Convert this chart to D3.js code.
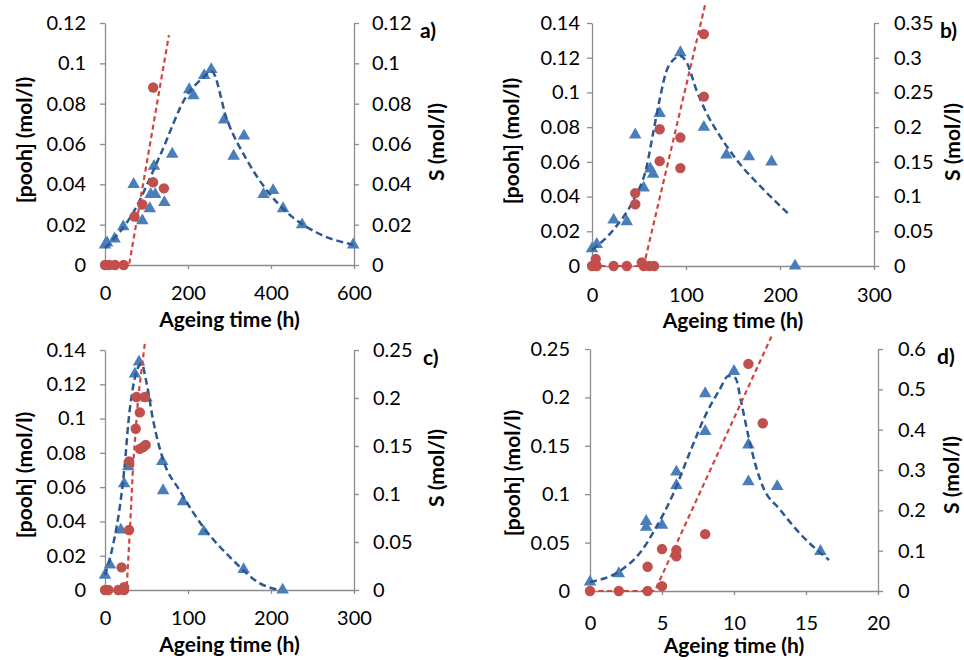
<!DOCTYPE html>
<html>
<head>
<meta charset="utf-8">
<script src="https://cdn.jsdelivr.net/npm/d3@7/dist/d3.min.js"></script>
<style>
    body { margin: 0; background: #fff; }
    svg text { font-family: Lato, "Open Sans", sans-serif; fill: #000; }
    .axis-title { font-size: 21px; font-weight: bold; }
    .panel-label { font-size: 21px; font-weight: bold; }
</style>
</head>
<body>
<div id="chart"></div>
<script>
// ---- data, [time (h), value] ----
// panel a
const triA = [[0, 0.010], [5, 0.011], [23, 0.013], [44, 0.019], [69, 0.040], [90, 0.022], [108, 0.028],
    [110, 0.035], [118, 0.049], [121, 0.035], [143, 0.031], [162, 0.055], [203, 0.087], [213, 0.084],
    [239, 0.094], [256, 0.097], [287, 0.072], [310, 0.054], [335, 0.064], [382, 0.035], [405, 0.037],
    [429, 0.028], [475, 0.020], [598, 0.010]];
const circA = [[0, 0], [10, 0], [24, 0], [45, 0], [71, 0.024], [90, 0.030], [116, 0.088], [116, 0.041], [142, 0.038]];
const blueLineA = [[0, 0.0084], [68, 0.026], [132, 0.054], [197, 0.084], [237, 0.093], [257, 0.096], [294, 0.072],
    [342, 0.052], [390, 0.037], [439, 0.026], [511, 0.016], [598, 0.010]];
const redLineA = [[0, 0], [58, 0], [154, 0.114]];

// panel b
const triB = [[0, 0.010], [5, 0.0125], [23, 0.0265], [37, 0.0256], [46, 0.0756], [55, 0.045], [62, 0.056],
    [65, 0.053], [72, 0.088], [94, 0.123], [119, 0.080], [143, 0.064], [167, 0.063], [191, 0.060], [216, 0.000]];
const circB = [[0, 0], [4, 0.010], [5, 0], [23, 0], [37, 0], [46, 0.105], [46, 0.089], [53, 0.005], [55, 0],
    [61, 0], [66, 0], [72, 0.197], [72, 0.151], [94, 0.185], [94, 0.141], [119, 0.244], [119, 0.334]];
const blueLineB = [[0, 0.0092], [23, 0.021], [44, 0.038], [58, 0.057], [65, 0.0765], [72, 0.096], [79, 0.112],
    [87, 0.119], [94, 0.121], [101, 0.117], [111, 0.1015], [122, 0.088], [136, 0.075], [157, 0.059],
    [179, 0.046], [211, 0.029]];
const redLineB = [[0, 0], [55, 0], [121, 0.38]];

// panel c
const triC = [[0, 0.0087], [6, 0.0146], [19, 0.035], [23, 0.062], [28, 0.072], [36, 0.126], [41, 0.133],
    [50, 0.112], [69, 0.075], [70, 0.058], [94, 0.0515], [119, 0.034], [167, 0.012], [214, 0.000]];
const circC = [[0, 0], [4, 0], [16, 0], [23, 0.003], [23, 0], [20, 0.0236], [29, 0.0625], [29, 0.134],
    [37, 0.168], [38, 0.201], [42, 0.185], [42, 0.147], [48, 0.201], [46, 0.149], [49, 0.151]];
const blueLineC = [[0, 0.0087], [10, 0.027], [18, 0.049], [24, 0.074], [28, 0.097], [34, 0.119], [40, 0.130],
    [44, 0.132], [50, 0.121], [58, 0.099], [70, 0.076], [90, 0.058], [118, 0.037], [154, 0.0175],
    [186, 0.004], [210, 0]];
const redLineC = [[0, 0], [26, 0], [30, 0.0625], [34, 0.132], [40, 0.201], [48, 0.257]];

// panel d
const triD = [[0, 0.0093], [2, 0.018], [3.9, 0.072], [3.9, 0.066], [5, 0.068], [6, 0.123], [6, 0.109],
    [8, 0.204], [8, 0.165], [10, 0.227], [11, 0.151], [11, 0.113], [13, 0.108], [16, 0.041]];
const circD = [[0, 0], [2, 0], [4, 0], [5, 0.012], [4, 0.060], [5, 0.104], [6, 0.101], [6, 0.086],
    [8, 0.141], [11, 0.563], [12, 0.416]];
const blueLineD = [[0, 0.0093], [2.1, 0.021], [3.5, 0.040], [4.6, 0.066], [5.8, 0.101], [6.9, 0.142],
    [8.1, 0.184], [9.0, 0.208], [9.6, 0.222], [10.1, 0.220], [10.5, 0.195], [11, 0.160], [11.5, 0.130],
    [12.0, 0.108], [13.2, 0.084], [14.6, 0.059], [16.6, 0.032]];
const redLineD = [[0, 0], [4.5, 0], [12.6, 0.631]];

// tick values
const xTicksA = [0, 200, 400, 600];
const xTicksB = [0, 100, 200, 300];
const xTicksD = [0, 5, 10, 15, 20];
const leftTicks12 = [0, 0.02, 0.04, 0.06, 0.08, 0.1, 0.12];
const leftTicks14 = [0, 0.02, 0.04, 0.06, 0.08, 0.1, 0.12, 0.14];
const leftTicks25 = [0, 0.05, 0.1, 0.15, 0.2, 0.25];
const rightTicksB = [0, 0.05, 0.1, 0.15, 0.2, 0.25, 0.3, 0.35];
const rightTicksC = [0, 0.05, 0.1, 0.15, 0.2, 0.25];
const rightTicksD = [0, 0.1, 0.2, 0.3, 0.4, 0.5, 0.6];

const axisColor = '#8c8c8c';
const triColor = '#4a7ebb';
const circColor = '#c0504d';
const blueLineColor = '#2c5892';
const redLineColor = '#d2453f';

let svg = d3.select('#chart').append('svg')
    .attr('width', 964)
    .attr('height', 660);

function drawPanel(p) {
    let g = svg.append('g');
    let x = d3.scaleLinear().domain(p.xDomain).range([p.left, p.right]);
    let yL = d3.scaleLinear().domain([0, p.leftMax]).range([p.bottom, p.top]);
    let yR = d3.scaleLinear().domain([0, p.rightMax]).range([p.bottom, p.top]);

    let fmt = d => String(d);

    // axes
    let xAxis = g.append('g').attr('transform', `translate(0,${p.bottom})`)
        .call(d3.axisBottom(x).tickValues(p.xTicks).tickSize(4).tickSizeOuter(0).tickFormat(fmt));
    let lAxis = g.append('g').attr('transform', `translate(${p.left},0)`)
        .call(d3.axisLeft(yL).tickValues(p.leftTicks).tickSize(5).tickSizeOuter(0).tickPadding(p.leftPad).tickFormat(fmt));
    let rAxis = g.append('g').attr('transform', `translate(${p.right},0)`)
        .call(d3.axisRight(yR).tickValues(p.rightTicks).tickSize(5).tickSizeOuter(0).tickPadding(p.rightPad).tickFormat(fmt));

    [xAxis, lAxis, rAxis].forEach(a => {
        a.select('.domain').attr('stroke', axisColor).attr('stroke-width', 1.3);
        a.selectAll('.tick line').attr('stroke', axisColor).attr('stroke-width', 1.3);
        a.selectAll('.tick text').attr('fill', '#000')
            .style('font-family', 'Lato, sans-serif').style('font-size', '20px');
    });
    xAxis.selectAll('.tick text').attr('dy', null).attr('y', p.xLabelDy);
    xAxis.selectAll('.tick line').filter(d => d === p.xDomain[0]).remove();

    // titles
    g.append('text')
        .attr('class', 'axis-title')
        .attr('x', (p.left + p.right) / 2)
        .attr('y', p.bottom + 62)
        .attr('text-anchor', 'middle')
        .text('Ageing time (h)');
    g.append('text')
        .attr('class', 'axis-title')
        .attr('transform', `translate(${p.leftTitleX},${p.leftTitleY}) rotate(-90)`)
        .attr('text-anchor', 'middle')
        .text('[pooh] (mol/l)');
    g.append('text')
        .attr('class', 'axis-title')
        .attr('transform', `translate(${p.rightTitleX},${p.rightTitleY}) rotate(-90)`)
        .attr('text-anchor', 'middle')
        .text('S (mol/l)');
    g.append('text')
        .attr('class', 'panel-label')
        .attr('x', p.labelX)
        .attr('y', p.top + 15)
        .text(p.label);

    // primary series: triangles + model curve
    g.selectAll('.tri').data(p.tri).enter().append('path')
        .attr('d', d3.symbol().type(d3.symbolTriangle).size(68))
        .attr('transform', d => `translate(${x(d[0])},${yL(d[1])})`)
        .attr('fill', triColor);
    g.append('path').datum(p.blueLine)
        .attr('d', d3.line().x(d => x(d[0])).y(d => yL(d[1])).curve(d3.curveMonotoneX))
        .attr('fill', 'none')
        .attr('stroke', blueLineColor)
        .attr('stroke-width', 2.5)
        .attr('stroke-dasharray', '7,4');

    // secondary series: circles + model curve
    g.selectAll('.circ').data(p.circ).enter().append('circle')
        .attr('cx', d => x(d[0]))
        .attr('cy', d => yR(d[1]))
        .attr('r', 5.2)
        .attr('fill', circColor);
    g.append('path').datum(p.redLine)
        .attr('d', d3.line().x(d => x(d[0])).y(d => yR(d[1])))
        .attr('fill', 'none')
        .attr('stroke', redLineColor)
        .attr('stroke-width', 2.2)
        .attr('stroke-dasharray', '5,3.5');
}

drawPanel({
    left: 105, right: 354, top: 23, bottom: 265,
    xDomain: [0, 600], leftMax: 0.12, rightMax: 0.12,
    xTicks: xTicksA, leftTicks: leftTicks12, rightTicks: leftTicks12,
    leftPad: 14, rightPad: 13, xLabelDy: 35,
    leftTitleX: 32, leftTitleY: 140, rightTitleX: 444, rightTitleY: 142,
    labelX: 420, label: 'a)',
    tri: triA, circ: circA, blueLine: blueLineA, redLine: redLineA
});
drawPanel({
    left: 592, right: 874, top: 23, bottom: 266,
    xDomain: [0, 300], leftMax: 0.14, rightMax: 0.35,
    xTicks: xTicksB, leftTicks: leftTicks14, rightTicks: rightTicksB,
    leftPad: 7, rightPad: 15, xLabelDy: 36,
    leftTitleX: 519, leftTitleY: 141, rightTitleX: 960, rightTitleY: 142,
    labelX: 940, label: 'b)',
    tri: triB, circ: circB, blueLine: blueLineB, redLine: redLineB
});
drawPanel({
    left: 105, right: 354, top: 350, bottom: 590,
    xDomain: [0, 300], leftMax: 0.14, rightMax: 0.25,
    xTicks: xTicksB, leftTicks: leftTicks14, rightTicks: rightTicksC,
    leftPad: 14, rightPad: 14, xLabelDy: 35,
    leftTitleX: 32, leftTitleY: 475, rightTitleX: 444, rightTitleY: 468,
    labelX: 423, label: 'c)',
    tri: triC, circ: circC, blueLine: blueLineC, redLine: redLineC
});
drawPanel({
    left: 590, right: 878, top: 349, bottom: 591,
    xDomain: [0, 20], leftMax: 0.25, rightMax: 0.6,
    xTicks: xTicksD, leftTicks: leftTicks25, rightTicks: rightTicksD,
    leftPad: 15, rightPad: 15, xLabelDy: 39,
    leftTitleX: 520, leftTitleY: 473, rightTitleX: 959, rightTitleY: 475,
    labelX: 937, label: 'd)',
    tri: triD, circ: circD, blueLine: blueLineD, redLine: redLineD
});
</script>
</body>
</html>
